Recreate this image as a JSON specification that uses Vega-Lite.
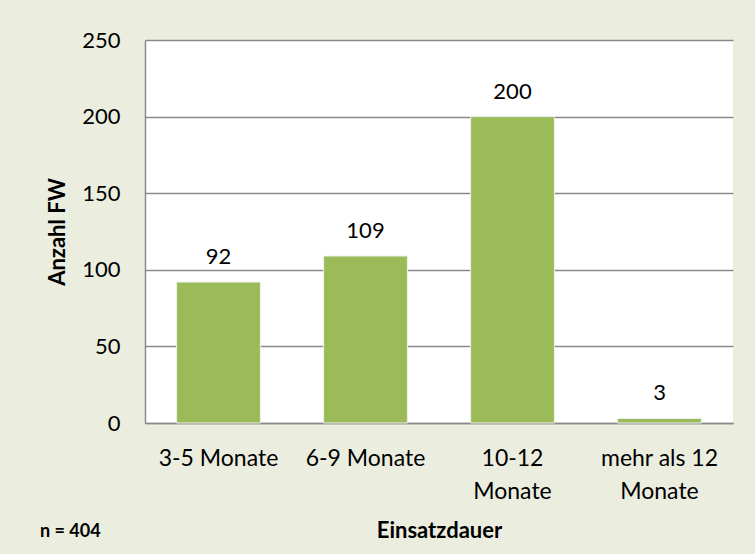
{
  "$schema": "https://vega.github.io/schema/vega-lite/v6.json",
  "autosize": "none",
  "width": 588,
  "height": 383,
  "padding": {"left": 145, "top": 40, "right": 22, "bottom": 131},
  "background": "#EBEEDF",
  "config": {
    "font": "Lato",
    "view": {"fill": "white", "stroke": null}
  },
  "title": {
    "text": "n = 404",
    "orient": "bottom",
    "anchor": "start",
    "frame": "group",
    "dx": -105,
    "offset": -20,
    "dy": 2,
    "fontSize": 18,
    "fontWeight": "bold",
    "color": "black",
    "baseline": "top"
  },
  "data": {
    "values": [
      {"dauer": "3-5 Monate", "anzahl": 92},
      {"dauer": "6-9 Monate", "anzahl": 109},
      {"dauer": "10-12 Monate", "anzahl": 200},
      {"dauer": "mehr als 12 Monate", "anzahl": 3}
    ]
  },
  "encoding": {
    "x": {
      "field": "dauer",
      "type": "nominal",
      "sort": null,
      "scale": {"paddingInner": 0.43, "paddingOuter": 0.215},
      "axis": {
        "title": "Einsatzdauer",
        "titleFontSize": 22,
        "titleFontWeight": "bold",
        "titleColor": "black",
        "titleY": 107,
        "titleBaseline": "middle",
        "labelAngle": 0,
        "labelFontSize": 23,
        "labelColor": "black",
        "labelPadding": 24,
        "labelBaseline": "top",
        "labelLineHeight": 33,
        "labelExpr": "datum.value == '10-12 Monate' ? ['10-12', 'Monate'] : datum.value == 'mehr als 12 Monate' ? ['mehr als 12', 'Monate'] : datum.value",
        "ticks": false,
        "domainColor": "#8a8a8a",
        "domainWidth": 1.5
      }
    },
    "y": {
      "field": "anzahl",
      "type": "quantitative",
      "scale": {"domain": [0, 250]},
      "axis": {
        "title": "Anzahl FW",
        "titleFontSize": 22,
        "titleFontWeight": "bold",
        "titleColor": "black",
        "titleAngle": -90,
        "titleX": -88,
        "titleY": 191.5,
        "titleAlign": "center",
        "titleBaseline": "middle",
        "values": [0, 50, 100, 150, 200, 250],
        "labelFontSize": 22,
        "labelColor": "black",
        "labelPadding": 25,
        "ticks": false,
        "grid": true,
        "gridColor": "#8a8a8a",
        "gridWidth": 1.5,
        "domainColor": "#8a8a8a",
        "domainWidth": 1.5
      }
    }
  },
  "layer": [
    {
      "mark": {"type": "bar", "color": "#9BBB59", "stroke": "#f0f0f0", "strokeWidth": 1}
    },
    {
      "mark": {"type": "text", "fontSize": 22, "dy": -18, "baseline": "alphabetic", "color": "black"},
      "encoding": {"text": {"field": "anzahl", "type": "quantitative"}}
    }
  ]
}
